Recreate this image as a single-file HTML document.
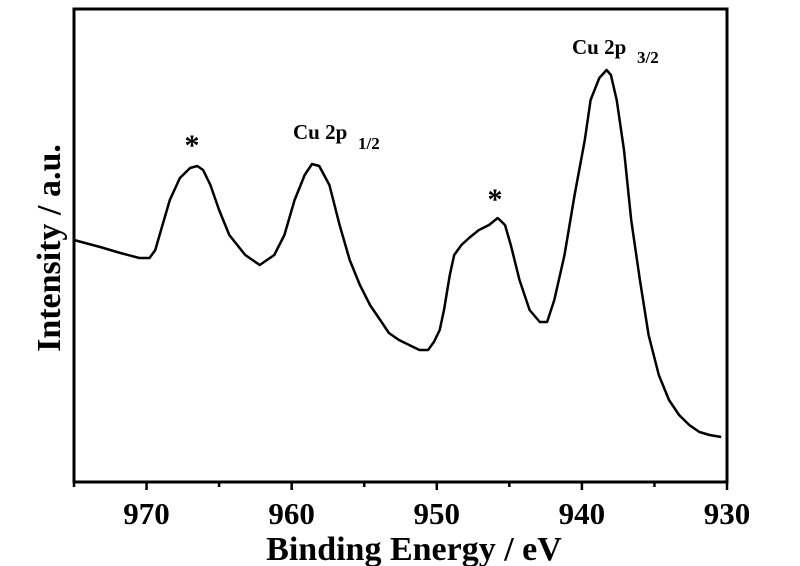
<!DOCTYPE html>
<html><head><meta charset="utf-8"><style>
body{margin:0;background:#fff;}
svg{display:block;font-family:"Liberation Serif",serif;font-weight:bold;}
</style></head><body>
<svg width="800" height="566" viewBox="0 0 800 566">
<g id="g"></g>
</svg>
<script>
const energies=[975.0,973.2,971.8,970.5,969.8,969.4,969.1,968.4,967.7,967.0,966.5,966.1,965.6,965.0,964.3,963.2,962.2,961.9,961.5,961.2,960.5,959.8,959.1,958.6,958.1,957.4,956.7,956.0,955.3,954.6,953.9,953.3,952.6,951.9,951.2,950.6,950.2,949.8,949.5,949.1,948.8,948.3,947.7,947.1,946.4,945.8,945.3,944.9,944.3,943.6,942.9,942.4,941.9,941.2,940.5,939.8,939.4,938.8,938.3,938.0,937.6,937.1,936.6,936.0,935.4,934.7,934.0,933.3,932.6,931.9,931.2,930.4];
const intensity=[242,235,229,224,224,232,247,282,304,314,316,312,297,272,247,227,217,220,224,227,247,282,307,318,316,297,257,222,197,177,162,149,142,137,132,132,140,152,172,207,227,237,245,252,257,264,257,237,202,172,160,160,182,227,287,342,382,404,412,407,382,332,262,202,147,107,82,67,57,50,47,45];
const xTicks=[970,960,950,940,930];
const xMinor=[975,965,955,945,935];
const L=74,R=727,T=9,B=482;
const xS=e=>L+(975-e)*(R-L)/45;
const yS=v=>B-v;
const g=document.getElementById('g');
const NS='http://www.w3.org/2000/svg';
function mk(t,a,txt){const e=document.createElementNS(NS,t);for(const k in a)e.setAttribute(k,a[k]);if(txt!==undefined)e.textContent=txt;g.appendChild(e);return e;}
let fr=mk('rect',{x:L,y:T,width:R-L,height:B-T,fill:'none',stroke:'#000','stroke-width':3});


xTicks.forEach(t=>{
 let l=mk('line',{x1:xS(t),x2:xS(t),y1:B,y2:B+8,stroke:'#000','stroke-width':2.5});
 
 
 let tx=mk('text',{x:xS(t),y:524,'text-anchor':'middle','font-size':31},String(t));
 
 
});
xMinor.forEach(t=>{
 let l=mk('line',{x1:xS(t),x2:xS(t),y1:B,y2:B+5,stroke:'#000','stroke-width':2.5});
 
 
});
let d=energies.map((e,i)=>(i?'L':'M')+xS(e).toFixed(1)+','+yS(intensity[i]).toFixed(1)).join(' ');
let p=mk('path',{d:d,fill:'none',stroke:'#000','stroke-width':2.5,'stroke-linejoin':'round'});


let xt=mk('text',{x:414,y:560,'text-anchor':'middle','font-size':34},'Binding Energy / eV');


let yt=mk('text',{x:0,y:0,'text-anchor':'middle','font-size':34,transform:'translate(60,248) rotate(-90)'},'Intensity / a.u.');


let s1=mk('text',{x:192,y:155,'text-anchor':'middle','font-size':30},'*');


let s2=mk('text',{x:495,y:209,'text-anchor':'middle','font-size':30},'*');


let a1=mk('text',{x:293,y:139,'font-size':21},'Cu 2p ');


let a1s=mk('text',{x:358,y:149,'font-size':17},'1/2');


let a2=mk('text',{x:572,y:54,'font-size':21},'Cu 2p ');


let a2s=mk('text',{x:637,y:63,'font-size':17},'3/2');


</script>
</body></html>
